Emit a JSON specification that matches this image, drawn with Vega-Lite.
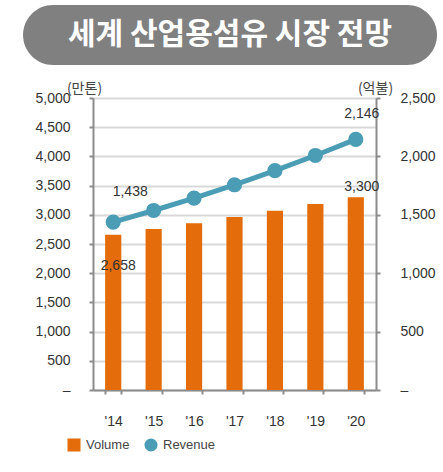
{
  "$schema": "https://vega.github.io/schema/vega-lite/v6.json",
  "padding": {"left": 23, "top": 5, "right": 0, "bottom": 0},
  "background": "white",
  "spacing": 16,
  "config": {
    "view": {"stroke": null},
    "font": "Liberation Sans",
    "legend": {
      "orient": "none",
      "legendX": -26,
      "legendY": 433,
      "direction": "horizontal",
      "symbolSize": 170,
      "symbolStrokeWidth": 0,
      "labelFontSize": 13,
      "labelColor": "#444444",
      "labelFont": "Liberation Sans",
      "columnPadding": 14,
      "labelOffset": 5,
      "padding": 0
    }
  },
  "vconcat": [
    {
      "width": 344,
      "height": 60,
      "data": {"values": [{"title": "세계 산업용섬유 시장 전망", "start": 0, "end": 1, "mid": 0.5}]},
      "encoding": {
        "x": {"field": "start", "type": "quantitative", "scale": {"domain": [0.169, 1], "nice": false, "zero": false}, "axis": null}
      },
      "layer": [
        {
          "mark": {"type": "rect", "cornerRadius": 30, "color": "#808080"},
          "encoding": {"x2": {"field": "end"}}
        },
        {
          "mark": {"type": "text", "color": "white", "fontSize": 30, "fontWeight": "bold", "font": "Noto Sans CJK KR", "baseline": "middle", "align": "center"},
          "encoding": {
            "x": {"field": "mid", "type": "quantitative"},
            "text": {"field": "title"}
          }
        }
      ]
    },
    {
      "width": 283,
      "height": 292,
      "data": {
        "values": [
          {"year": "'14", "series": "Volume", "value": 2658, "label": "2,658"},
          {"year": "'15", "series": "Volume", "value": 2755, "label": ""},
          {"year": "'16", "series": "Volume", "value": 2857, "label": ""},
          {"year": "'17", "series": "Volume", "value": 2962, "label": ""},
          {"year": "'18", "series": "Volume", "value": 3071, "label": ""},
          {"year": "'19", "series": "Volume", "value": 3183, "label": ""},
          {"year": "'20", "series": "Volume", "value": 3300, "label": "3,300"},
          {"year": "'14", "series": "Revenue", "value": 1438, "label": "1,438"},
          {"year": "'15", "series": "Revenue", "value": 1537, "label": ""},
          {"year": "'16", "series": "Revenue", "value": 1643, "label": ""},
          {"year": "'17", "series": "Revenue", "value": 1757, "label": ""},
          {"year": "'18", "series": "Revenue", "value": 1878, "label": ""},
          {"year": "'19", "series": "Revenue", "value": 2008, "label": ""},
          {"year": "'20", "series": "Revenue", "value": 2146, "label": "2,146"}
        ]
      },
      "encoding": {
        "x": {
          "field": "year", "type": "ordinal", "sort": null,
          "scale": {"paddingInner": 0.6, "paddingOuter": 0.3},
          "axis": {
            "title": null, "labelAngle": 0, "tickBand": "extent", "labelPadding": 20,
            "tickSize": 4, "tickColor": "#8c8c8c", "tickWidth": 2,
            "domainColor": "#8c8c8c", "domainWidth": 2,
            "labelFontSize": 14, "labelColor": "#333333", "grid": false
          }
        }
      },
      "layer": [
        {
          "encoding": {
            "y": {
              "field": "value", "type": "quantitative", "scale": {"domain": [0, 5000]},
              "axis": {
                "title": "(만톤)",
                "values": [0, 500, 1000, 1500, 2000, 2500, 3000, 3500, 4000, 4500, 5000],
                "labelExpr": "datum.value === 0 ? '–' : format(datum.value, ',')",
                "grid": true, "gridColor": "#d9d9d9", "gridWidth": 2,
                "domainColor": "#8c8c8c", "domainWidth": 2,
                "tickColor": "#8c8c8c", "tickWidth": 2, "tickSize": 4,
                "labelPadding": 19, "labelFontSize": 14, "labelColor": "#333333",
                "minExtent": 70,
                "titleAngle": 0, "titleX": -9, "titleY": -10,
                "titleAlign": "center", "titleBaseline": "middle",
                "titleFontSize": 14, "titleFontWeight": "normal",
                "titleColor": "#444444", "titleFont": "Noto Sans CJK KR"
              }
            }
          },
          "layer": [
            {
              "transform": [{"filter": "datum.series === 'Volume'"}],
              "mark": {"type": "bar"},
              "encoding": {
                "color": {
                  "field": "series", "type": "nominal", "title": null,
                  "scale": {"domain": ["Volume", "Revenue"], "range": ["#E46C0A", "#4A9DB5"]}
                }
              }
            },
            {
              "transform": [{"filter": "datum.series === 'Volume' && datum.year === \"'14\""}],
              "mark": {"type": "text", "dx": 5, "dy": 31, "fontSize": 14, "color": "#333333", "baseline": "middle"},
              "encoding": {"text": {"field": "label"}}
            },
            {
              "transform": [{"filter": "datum.series === 'Volume' && datum.year === \"'20\""}],
              "mark": {"type": "text", "dx": 6, "dy": -10, "fontSize": 14, "color": "#333333", "baseline": "middle"},
              "encoding": {"text": {"field": "label"}}
            }
          ]
        },
        {
          "transform": [{"filter": "datum.series === 'Revenue'"}],
          "encoding": {
            "y": {
              "field": "value", "type": "quantitative", "scale": {"domain": [0, 2500]},
              "axis": {
                "orient": "right",
                "title": "(억불)",
                "values": [0, 500, 1000, 1500, 2000, 2500],
                "labelExpr": "datum.value === 0 ? '–' : format(datum.value, ',')",
                "grid": false,
                "domainColor": "#8c8c8c", "domainWidth": 2,
                "tickColor": "#8c8c8c", "tickWidth": 2, "tickSize": 4,
                "labelPadding": 20, "labelFontSize": 14, "labelColor": "#333333",
                "titleAngle": 0, "titleX": -1, "titleY": -10,
                "titleAlign": "center", "titleBaseline": "middle",
                "titleFontSize": 14, "titleFontWeight": "normal",
                "titleColor": "#444444", "titleFont": "Noto Sans CJK KR"
              }
            }
          },
          "layer": [
            {"mark": {"type": "line", "color": "#4A9DB5", "strokeWidth": 5}},
            {
              "mark": {"type": "point", "filled": true, "size": 230, "opacity": 1},
              "encoding": {
                "color": {
                  "field": "series", "type": "nominal", "title": null,
                  "scale": {"domain": ["Volume", "Revenue"], "range": ["#E46C0A", "#4A9DB5"]}
                },
                "shape": {
                  "field": "series", "type": "nominal", "title": null,
                  "scale": {"domain": ["Volume", "Revenue"], "range": ["square", "circle"]}
                }
              }
            },
            {
              "transform": [{"filter": "datum.year === \"'14\""}],
              "mark": {"type": "text", "dx": 17, "dy": -30, "fontSize": 14, "color": "#333333", "baseline": "middle"},
              "encoding": {"text": {"field": "label"}}
            },
            {
              "transform": [{"filter": "datum.year === \"'20\""}],
              "mark": {"type": "text", "dx": 6, "dy": -25, "fontSize": 14, "color": "#333333", "baseline": "middle"},
              "encoding": {"text": {"field": "label"}}
            }
          ]
        }
      ],
      "resolve": {"scale": {"y": "independent"}}
    }
  ]
}
